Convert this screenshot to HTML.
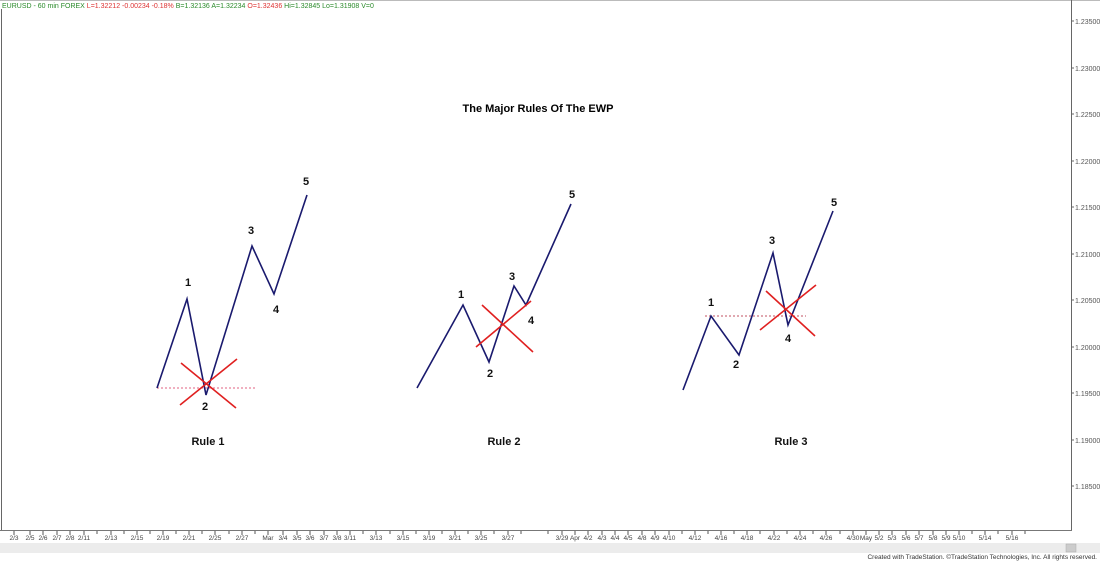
<!DOCTYPE html>
<html><head><meta charset="utf-8"><style>
body{margin:0;background:#fff;}
svg{display:block;font-family:"Liberation Sans",Arial,sans-serif;}
</style></head><body>
<svg width="1100" height="561" viewBox="0 0 1100 561" xmlns="http://www.w3.org/2000/svg">
<rect width="1100" height="561" fill="#fff"/>
<rect x="0" y="0" width="1100" height="1" fill="#bbb"/>
<text x="2" y="8" font-size="7" fill="#2a8a2a">EURUSD - 60 min  FOREX  <tspan fill="#d33">L=1.32212  -0.00234  -0.18%</tspan>  B=1.32136  A=1.32234  <tspan fill="#d33">O=1.32436</tspan>  Hi=1.32845  Lo=1.31908  V=0</text>
<line x1="1.5" y1="9" x2="1.5" y2="530" stroke="#666"/>
<!-- right axis -->
<line x1="1071.5" y1="0" x2="1071.5" y2="531" stroke="#666"/>
<g font-size="7" fill="#555">
<text x="1075" y="24">1.23500</text>
<text x="1075" y="71">1.23000</text>
<text x="1075" y="117">1.22500</text>
<text x="1075" y="164">1.22000</text>
<text x="1075" y="210">1.21500</text>
<text x="1075" y="257">1.21000</text>
<text x="1075" y="303">1.20500</text>
<text x="1075" y="350">1.20000</text>
<text x="1075" y="396">1.19500</text>
<text x="1075" y="443">1.19000</text>
<text x="1075" y="489">1.18500</text>
</g>
<g stroke="#666">
<line x1="1071" y1="21" x2="1074" y2="21"/><line x1="1071" y1="68" x2="1074" y2="68"/><line x1="1071" y1="114" x2="1074" y2="114"/><line x1="1071" y1="161" x2="1074" y2="161"/><line x1="1071" y1="207" x2="1074" y2="207"/><line x1="1071" y1="254" x2="1074" y2="254"/><line x1="1071" y1="300" x2="1074" y2="300"/><line x1="1071" y1="347" x2="1074" y2="347"/><line x1="1071" y1="393" x2="1074" y2="393"/><line x1="1071" y1="440" x2="1074" y2="440"/><line x1="1071" y1="486" x2="1074" y2="486"/>
</g>
<!-- bottom axis -->
<line x1="0" y1="530.5" x2="1072" y2="530.5" stroke="#777"/>
<g id="xl" font-size="6.5" fill="#444" text-anchor="middle">
<text x="14" y="540">2/3</text><text x="30" y="540">2/5</text><text x="43" y="540">2/6</text><text x="57" y="540">2/7</text><text x="70" y="540">2/8</text><text x="84" y="540">2/11</text><text x="111" y="540">2/13</text><text x="137" y="540">2/15</text><text x="163" y="540">2/19</text><text x="189" y="540">2/21</text><text x="215" y="540">2/25</text><text x="242" y="540">2/27</text><text x="268" y="540">Mar</text><text x="283" y="540">3/4</text><text x="297" y="540">3/5</text><text x="310" y="540">3/6</text><text x="324" y="540">3/7</text><text x="337" y="540">3/8</text><text x="350" y="540">3/11</text><text x="376" y="540">3/13</text><text x="403" y="540">3/15</text><text x="429" y="540">3/19</text><text x="455" y="540">3/21</text><text x="481" y="540">3/25</text><text x="508" y="540">3/27</text>
<text x="562" y="540">3/29</text><text x="575" y="540">Apr</text><text x="588" y="540">4/2</text><text x="602" y="540">4/3</text><text x="615" y="540">4/4</text><text x="628" y="540">4/5</text><text x="642" y="540">4/8</text><text x="655" y="540">4/9</text><text x="669" y="540">4/10</text><text x="695" y="540">4/12</text><text x="721" y="540">4/16</text><text x="747" y="540">4/18</text><text x="774" y="540">4/22</text><text x="800" y="540">4/24</text><text x="826" y="540">4/26</text><text x="853" y="540">4/30</text><text x="866" y="540">May</text><text x="879" y="540">5/2</text><text x="892" y="540">5/3</text><text x="906" y="540">5/6</text><text x="919" y="540">5/7</text><text x="933" y="540">5/8</text><text x="946" y="540">5/9</text><text x="959" y="540">5/10</text><text x="985" y="540">5/14</text><text x="1012" y="540">5/16</text>
</g>
<g stroke="#555">
<path d="M14 531v4M30 531v4M43 531v4M57 531v4M70 531v4M84 531v4M97 531v3M111 531v4M124 531v3M137 531v4M150 531v3M163 531v4M176 531v3M189 531v4M202 531v3M215 531v4M229 531v3M242 531v4M255 531v3M268 531v4M283 531v4M297 531v4M310 531v4M324 531v4M337 531v4M350 531v4M363 531v3M376 531v4M390 531v3M403 531v4M416 531v3M429 531v4M442 531v3M455 531v4M468 531v3M481 531v4M494 531v3M508 531v4M521 531v3M548 531v3M562 531v4M575 531v4M588 531v4M602 531v4M615 531v4M628 531v4M642 531v4M655 531v4M669 531v4M682 531v3M695 531v4M708 531v3M721 531v4M734 531v3M747 531v4M760 531v3M774 531v4M787 531v3M800 531v4M813 531v3M826 531v4M840 531v3M853 531v4M866 531v4M879 531v4M892 531v4M906 531v4M919 531v4M933 531v4M946 531v4M959 531v4M972 531v3M985 531v4M998 531v3M1012 531v4M1025 531v3"/>
</g>
<rect x="0" y="543" width="1100" height="10" fill="#ececec"/>
<rect x="1066" y="544" width="10" height="8" fill="#ccc" stroke="#aaa" stroke-width="0.5"/>
<text x="1097" y="559" font-size="6.5" fill="#333" text-anchor="end">Created with TradeStation. ©TradeStation Technologies, Inc. All rights reserved.</text>
<!-- title -->
<text x="538" y="112" font-size="11" font-weight="bold" text-anchor="middle" fill="#000">The Major Rules Of The EWP</text>
<g fill="none" stroke-width="1.6">
<!-- Rule 1 -->
<line x1="157" y1="388" x2="256" y2="388" stroke="#e06080" stroke-width="1" stroke-dasharray="2,2"/>
<polyline points="157,388 187,299 206,395 252,246 274,294 307,195" stroke="#1a1a6e"/>
<line x1="181" y1="363" x2="236" y2="408" stroke="#e02020"/>
<line x1="180" y1="405" x2="237" y2="359" stroke="#e02020"/>
<!-- Rule 2 -->
<polyline points="417,388 463,305 489,362 514,286 526,305 571,204" stroke="#1a1a6e"/>
<line x1="482" y1="305" x2="533" y2="352" stroke="#e02020"/>
<line x1="476" y1="347" x2="531" y2="301" stroke="#e02020"/>
<!-- Rule 3 -->
<line x1="705" y1="316" x2="806" y2="316" stroke="#c05060" stroke-width="1" stroke-dasharray="2,2"/>
<polyline points="683,390 711,316 739,355 773,253 788,325 833,211" stroke="#1a1a6e"/>
<line x1="766" y1="291" x2="815" y2="336" stroke="#e02020"/>
<line x1="760" y1="330" x2="816" y2="285" stroke="#e02020"/>
</g>
<g font-size="11" font-weight="bold" text-anchor="middle" fill="#111">
<text x="188" y="286">1</text><text x="205" y="410">2</text><text x="251" y="234">3</text><text x="276" y="313">4</text><text x="306" y="185">5</text>
<text x="461" y="298">1</text><text x="490" y="377">2</text><text x="512" y="280">3</text><text x="531" y="324">4</text><text x="572" y="198">5</text>
<text x="711" y="306">1</text><text x="736" y="368">2</text><text x="772" y="244">3</text><text x="788" y="342">4</text><text x="834" y="206">5</text>
<text x="208" y="445">Rule 1</text><text x="504" y="445">Rule 2</text><text x="791" y="445">Rule 3</text>
</g>
</svg>
</body></html>
